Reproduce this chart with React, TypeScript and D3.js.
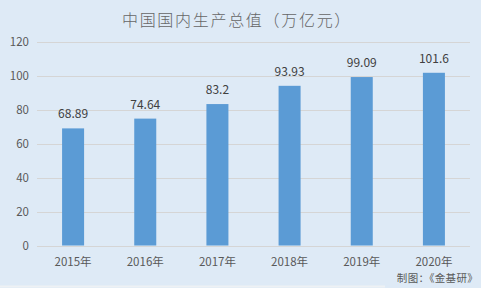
import React from "react";
import * as d3 from "d3";

const categories = ["2015年", "2016年", "2017年", "2018年", "2019年", "2020年"];
const values = [68.89, 74.64, 83.2, 93.93, 99.09, 101.6];
const valueLabels = ["68.89", "74.64", "83.2", "93.93", "99.09", "101.6"];
const yTicks = [0, 20, 40, 60, 80, 100, 120];
const title = "中国国内生产总值（万亿元）";
const source = "制图：《金基研》";

const W = 481;
const H = 288;
const FONT = "'Noto Sans CJK SC', 'Microsoft YaHei', sans-serif";

export default function App() {
  const x = d3.scaleBand<string>().domain(categories).range([37, 470]).paddingInner(0.695).paddingOuter(0.3475);
  const y = d3.scaleLinear().domain([0, 120]).range([245.5, 41.5]);
  const textColor = "#595959";
  return (
    <svg width={W} height={H} style={{ position: "absolute", left: 0, top: 0 }} fontFamily={FONT}>
      <rect x={0} y={0} width={W} height={H} fill="#deeaf6" />
      <rect x={0} y={285.5} width={385} height={2} fill="#eef1f4" />
      <text x={237} y={26} textAnchor="middle" fontSize={16} letterSpacing={1.7} fill="#666666" fontWeight={300}>
        {title}
      </text>
      {yTicks.map((t) => (
        <g key={t}>
          <line x1={37} x2={470} y1={Math.round(y(t)) + 0.5} y2={Math.round(y(t)) + 0.5} stroke="#d5d5d5" strokeWidth={1} />
          <text x={29} y={y(t)} dy="0.35em" textAnchor="end" fontSize={11.5} fill={textColor}>
            {t}
          </text>
        </g>
      ))}
      {categories.map((c, i) => (
        <g key={c}>
          <rect x={x(c)} y={y(values[i])} width={x.bandwidth()} height={y(0) - y(values[i])} fill="#5b9bd5" />
          <text x={(x(c) as number) + x.bandwidth() / 2} y={y(values[i]) - 10} textAnchor="middle" fontSize={12} fill="#404040">
            {valueLabels[i]}
          </text>
          <text x={(x(c) as number) + x.bandwidth() / 2} y={266} textAnchor="middle" fontSize={11.5} fill={textColor}>
            {c}
          </text>
        </g>
      ))}
      <text x={478} y={282} textAnchor="end" fontSize={10.5} letterSpacing={0.3} fill={textColor}>
        {source}
      </text>
    </svg>
  );
}
